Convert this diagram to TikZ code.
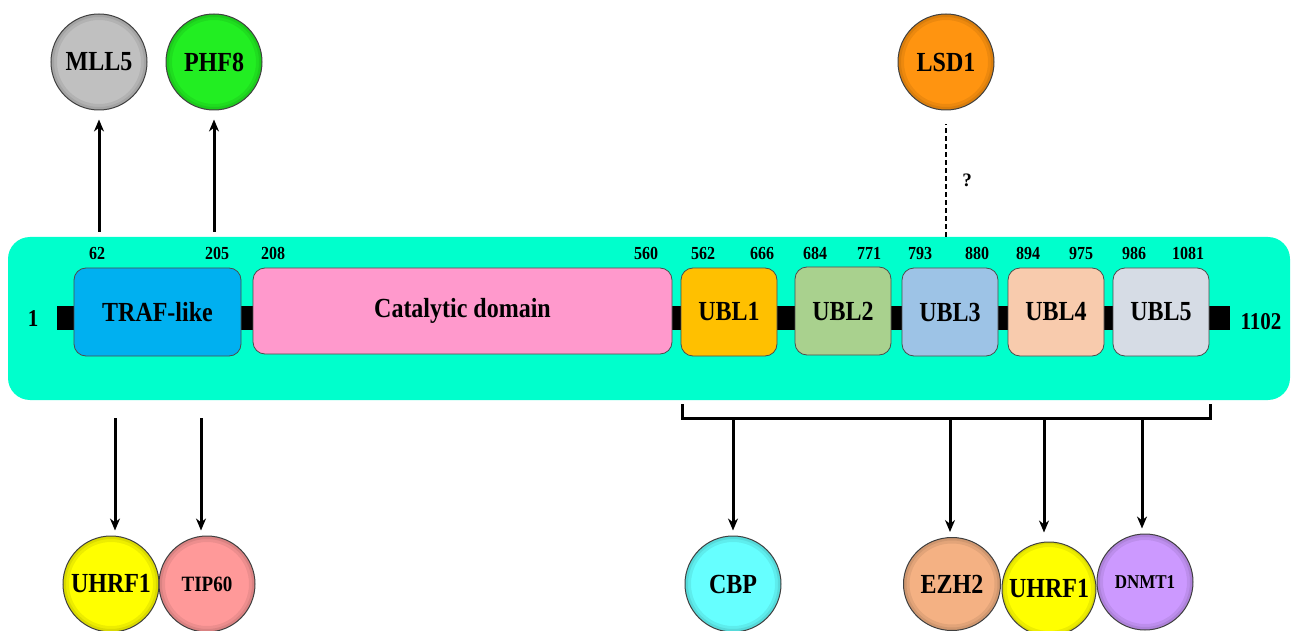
\documentclass[tikz,border=0pt]{standalone}
\usepackage{fontspec}
\setmainfont{Liberation Serif}
\usetikzlibrary{arrows.meta,shapes.geometric}
\definecolor{tealbg}{HTML}{00FFCC}
\definecolor{cmll}{HTML}{C0C0C0}
\definecolor{cphf}{HTML}{22EE22}
\definecolor{clsd}{HTML}{FF9410}
\definecolor{cuhrf}{HTML}{FFFF00}
\definecolor{ctip}{HTML}{FF9999}
\definecolor{ccbp}{HTML}{66FFFF}
\definecolor{cezh}{HTML}{F4B183}
\definecolor{cdnmt}{HTML}{CC99FF}
\definecolor{ctraf}{HTML}{00B0F0}
\definecolor{ccat}{HTML}{FF99CC}
\definecolor{cubla}{HTML}{FFC000}
\definecolor{cublb}{HTML}{A9D18E}
\definecolor{cublc}{HTML}{9DC3E6}
\definecolor{cubld}{HTML}{F8CBAD}
\definecolor{cuble}{HTML}{D6DCE5}
\newcommand{\tall}[1]{\scalebox{1}[1.15]{#1}}
\begin{document}
\begin{tikzpicture}[x=1pt,y=-1pt,
  partner/.style={circle, draw=black!75, line width=1pt, minimum size=96pt, inner sep=0pt,
    font=\fontsize{24}{28}\selectfont\bfseries,
    path picture={
      \draw[black, opacity=0.07, line width=6pt] (path picture bounding box.center) circle [radius=45pt];
      \draw[black, opacity=0.08, line width=3pt] (path picture bounding box.center) circle [radius=46.5pt];}},
  oval/.style={ellipse, draw=black!75, line width=1pt, inner sep=0pt,
    font=\fontsize{24}{28}\selectfont\bfseries,
    path picture={
      \draw[black, opacity=0.07, line width=6pt] (path picture bounding box.center) ellipse [x radius=45.5pt, y radius=43.5pt];
      \draw[black, opacity=0.08, line width=3pt] (path picture bounding box.center) ellipse [x radius=47pt, y radius=45pt];}},
  dombox/.style={draw=black!70, line width=0.8pt, rounded corners=12pt, minimum height=88pt, inner sep=0pt,
    font=\fontsize{24}{28}\selectfont\bfseries},
  posnum/.style={font=\fontsize{16}{18}\selectfont\bfseries, inner sep=0pt},
  arr/.style={line width=3pt, -{Stealth[length=12pt,width=10pt]}},
  brk/.style={line width=3pt}]
\useasboundingbox (0,0) rectangle (1294,631);

% protein background
\node[fill=tealbg, rounded corners=22pt, minimum width=1282pt, minimum height=163pt, inner sep=0pt] (prot) at (649,318.5) {};
% backbone
\fill[black] (57,306) rectangle (1230,330);

% domains
\node[dombox, fill=ctraf, minimum width=167pt] (traf) at (157.5,312) {\tall{TRAF-like}};
\node[dombox, fill=ccat, minimum width=419pt, minimum height=86pt] (cat) at (462.5,311) {\tall{Catalytic domain}};
\node[dombox, fill=cubla, minimum width=96pt] (ubl1) at (729,312) {\tall{UBL1}};
\node[dombox, fill=cublb, minimum width=96pt] (ubl2) at (843,311) {\tall{UBL2}};
\node[dombox, fill=cublc, minimum width=96pt] (ubl3) at (950,312) {\tall{UBL3}};
\node[dombox, fill=cubld, minimum width=96pt] (ubl4) at (1056,312) {\tall{UBL4}};
\node[dombox, fill=cuble, minimum width=96pt] (ubl5) at (1161,312) {\tall{UBL5}};

% termini
\node[font=\fontsize{21}{24}\selectfont\bfseries] (nterm) at (33,319) {\tall{1}};
\node[font=\fontsize{21}{24}\selectfont\bfseries] (cterm) at (1261,322) {\tall{1102}};

% positions
\node[posnum] (p62) at (97,253) {\tall{62}};
\node[posnum] (p205) at (217,253) {\tall{205}};
\node[posnum] (p208) at (273,253) {\tall{208}};
\node[posnum] (p560) at (646,253) {\tall{560}};
\node[posnum] (p562) at (703,253) {\tall{562}};
\node[posnum] (p666) at (762,253) {\tall{666}};
\node[posnum] (p684) at (815,253) {\tall{684}};
\node[posnum] (p771) at (869,253) {\tall{771}};
\node[posnum] (p793) at (920,253) {\tall{793}};
\node[posnum] (p880) at (977,253) {\tall{880}};
\node[posnum] (p894) at (1028,253) {\tall{894}};
\node[posnum] (p975) at (1081,253) {\tall{975}};
\node[posnum] (p986) at (1134,253) {\tall{986}};
\node[posnum] (p1081) at (1188,253) {\tall{1081}};

% top partners
\node[partner, fill=cmll] (mll5) at (99,62) {\tall{MLL5}};
\node[partner, fill=cphf] (phf8) at (214,62) {\tall{PHF8}};
\node[partner, fill=clsd] (lsd1) at (946,62) {\tall{LSD1}};

\coordinate (a62) at (99,232);
\coordinate (a205) at (214,232);
\coordinate (alsd) at (946,237);
\draw[arr, shorten >=9pt] (a62) -- (mll5.south);
\draw[arr, shorten >=9pt] (a205) -- (phf8.south);
\draw[line width=1.4pt, dash pattern=on 5pt off 3pt] (alsd) -- ([yshift=-14pt]lsd1.south);
\node[font=\fontsize{19}{22}\selectfont\bfseries] (q) at (967,180) {?};

% bottom partners
\node[partner, fill=cuhrf] (uhrfa) at (111,584) {\tall{UHRF1}};
\node[partner, fill=ctip, font=\fontsize{19}{22}\selectfont\bfseries] (tip60) at (207,584) {\tall{TIP60}};
\node[partner, fill=ccbp] (cbp) at (733,584) {\tall{CBP}};
\node[oval, fill=cezh, minimum width=97pt, minimum height=93pt] (ezh2) at (952,584) {\tall{EZH2}};
\node[partner, fill=cuhrf, minimum size=94pt] (uhrfb) at (1049,589) {\tall{UHRF1}};
\node[partner, fill=cdnmt, font=\fontsize{17}{20}\selectfont\bfseries] (dnmt1) at (1145,582) {\tall{DNMT1}};

\coordinate (btraf) at (115,418);
\coordinate (btip) at (201,418);
\draw[arr, shorten >=5pt] (btraf) -- (btraf |- uhrfa.north);
\draw[arr, shorten >=5pt] (btip) -- (btip |- tip60.north);

% bracket
\coordinate (brl) at (682,404);
\coordinate (brr) at (1210,404);
\draw[brk] (brl) -- ++(0,14) -| (brr);
\coordinate (bcbp) at (733,418);
\coordinate (bezh) at (950,418);
\coordinate (buhrf) at (1044,418);
\coordinate (bdnmt) at (1142,418);
\draw[arr, shorten >=5pt] (bcbp) -- (bcbp |- cbp.north);
\draw[arr, shorten >=5pt] (bezh) -- (bezh |- ezh2.north);
\draw[arr, shorten >=9pt] (buhrf) -- (buhrf |- uhrfb.north);
\draw[arr, shorten >=5pt] (bdnmt) -- (bdnmt |- dnmt1.north);
\end{tikzpicture}
\end{document}
